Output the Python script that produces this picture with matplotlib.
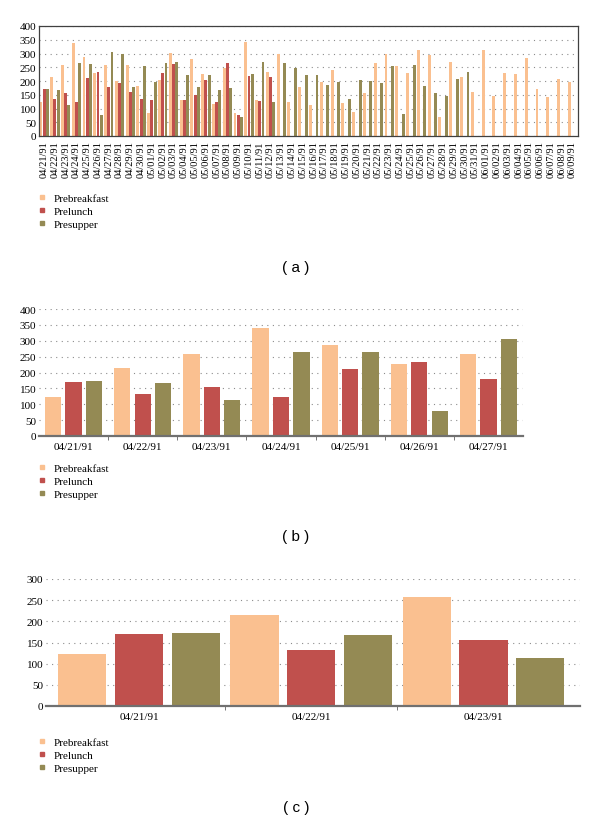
import numpy as np
import matplotlib
matplotlib.use("Agg")
import matplotlib.pyplot as plt
from matplotlib.lines import Line2D

# -----------------------------
# 1 Data
# -----------------------------

dates = ["04/21/91", "04/22/91", "04/23/91", "04/24/91", "04/25/91", "04/26/91", "04/27/91",
         "04/28/91", "04/29/91", "04/30/91", "05/01/91", "05/02/91", "05/03/91", "05/04/91",
         "05/05/91", "05/06/91", "05/07/91", "05/08/91", "05/09/91", "05/10/91", "05/11/91",
         "05/12/91", "05/13/91", "05/14/91", "05/15/91", "05/16/91", "05/17/91", "05/18/91",
         "05/19/91", "05/20/91", "05/21/91", "05/22/91", "05/23/91", "05/24/91", "05/25/91",
         "05/26/91", "05/27/91", "05/28/91", "05/29/91", "05/30/91", "05/31/91", "06/01/91",
         "06/02/91", "06/03/91", "06/04/91", "06/05/91", "06/06/91", "06/07/91", "06/08/91",
         "06/09/91"]

prebreakfast = [122, 215, 257, 340, 288, 228, 258, 200, 260, 182, 82, 204, 302, 130,
                280, 224, 118, 248, 84, 341, 132, 234, 297, 125, 180, 113, 196, 240,
                121, 87, 158, 267, 299, 254, 229, 311, 293, 70, 270, 215, 160, 311,
                144, 229, 224, 285, 170, 143, 208, 198]

prelunch = [170, 133, 155, 123, 210, 233, 179, 191, 161, 136, 130, 228, 261, 130,
            150, 204, 124, 267, 75, 217, 128, 215]

presupper = [172, 167, 113, 265, 263, 78, 306, 300, 178, 253, 196, 264, 270, 221,
             178, 221, 166, 173, 69, 227, 269, 125, 264, 248, 221, 222, 185, 196,
             133, 204, 200, 191, 254, 79, 258, 182, 156, 144, 206, 234]

series_names = ["Prebreakfast", "Prelunch", "Presupper"]
colors = ["#FAC090", "#C0504D", "#948A54"]

serif = ["Liberation Serif", "DejaVu Serif"]
sans = ["Liberation Sans", "DejaVu Sans"]


def pad(values, n):
    out = np.full(n, np.nan)
    out[:len(values)] = values
    return out


n = len(dates)
series = [pad(prebreakfast, n), pad(prelunch, n), pad(presupper, n)]

fig = plt.figure(figsize=(6, 8.28), dpi=100)
H = 828.0


def add_axes(left, top, right, bottom):
    return fig.add_axes([left / 600, 1 - bottom / H, (right - left) / 600, (bottom - top) / H])


def style_grid(ax, ymax):
    ax.set_ylim(0, ymax)
    ax.set_yticks(np.arange(0, ymax + 1, 50))
    ax.yaxis.grid(True, linestyle=(0, (1, 4)), color="#8c8c8c", linewidth=0.8)
    ax.set_axisbelow(True)
    ax.tick_params(axis="y", length=0, pad=2, labelsize=8)
    for lab in ax.get_yticklabels():
        lab.set_family(serif)


def add_legend(top_px, left_px):
    handles = [Line2D([], [], marker="s", linestyle="none", color=c, markersize=3.5) for c in colors]
    fig.legend(handles, series_names, loc="upper left",
               bbox_to_anchor=(left_px / 600, 1 - top_px / H),
               frameon=False, handlelength=0.6, handletextpad=0.7,
               labelspacing=0.3, borderaxespad=0, borderpad=0,
               prop={"family": serif, "size": 8})


# -----------------------------
# 2 Panel (a): all days
# -----------------------------

ax = add_axes(39, 27, 578, 137)
x = np.arange(n)
for k in range(3):
    ax.bar(x + (k - 1) * 0.3, series[k], width=0.27, color=colors[k])
style_grid(ax, 400)
ax.set_xlim(-0.47, 49.5)
ax.set_xticks(x)
ax.set_xticklabels(dates, rotation=90, family=serif, fontsize=7.5)
ax.tick_params(axis="x", length=0, pad=3)
for s in ax.spines.values():
    s.set_color("#404040")
    s.set_linewidth(0.9)

add_legend(194, 39)
fig.text(0.493, 1 - 268 / H, "( a )", ha="center", va="center", family=sans, fontsize=11)

# -----------------------------
# 3 Panel (b): first week
# -----------------------------

ax = add_axes(39, 310, 523, 437)
xb = np.arange(7)
for k in range(3):
    ax.bar(xb + (k - 1) * 0.295, series[k][:7], width=0.235, color=colors[k])
style_grid(ax, 400)
ax.set_xlim(-0.5, 6.5)
ax.set_xticks(xb)
ax.set_xticklabels(dates[:7], family=serif, fontsize=8)
ax.set_xticks(np.arange(0.5, 6, 1), minor=True)
ax.tick_params(axis="x", which="major", length=0, pad=4)
ax.tick_params(axis="x", which="minor", length=3, color="#606060")
for side in ["top", "right", "left"]:
    ax.spines[side].set_visible(False)
ax.spines["bottom"].set_color("#707070")
ax.spines["bottom"].set_linewidth(1.6)

add_legend(464, 39)
fig.text(0.493, 1 - 537 / H, "( b )", ha="center", va="center", family=sans, fontsize=11)

# -----------------------------
# 4 Panel (c): first three days
# -----------------------------

ax = add_axes(46, 580, 580, 707)
xc = np.arange(3)
for k in range(3):
    ax.bar(xc + (k - 1) * 0.33, series[k][:3], width=0.28, color=colors[k])
style_grid(ax, 300)
ax.set_xlim(-0.54, 2.56)
ax.set_xticks(xc)
ax.set_xticklabels(dates[:3], family=serif, fontsize=8)
ax.set_xticks(np.arange(0.5, 2, 1), minor=True)
ax.tick_params(axis="x", which="major", length=0, pad=4)
ax.tick_params(axis="x", which="minor", length=3, color="#606060")
for side in ["top", "right", "left"]:
    ax.spines[side].set_visible(False)
ax.spines["bottom"].set_color("#707070")
ax.spines["bottom"].set_linewidth(1.6)

add_legend(738, 39)
fig.text(0.493, 1 - 808 / H, "( c )", ha="center", va="center", family=sans, fontsize=11)

fig.savefig("out.png", dpi=100)
